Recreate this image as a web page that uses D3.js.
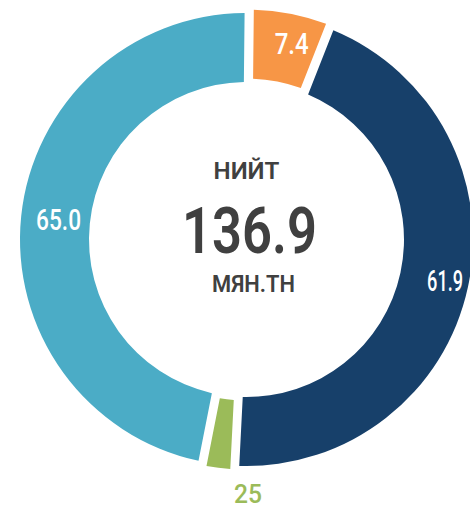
<!DOCTYPE html>
<html>
<head>
<meta charset="utf-8">
<script src="https://cdn.jsdelivr.net/npm/d3@7"></script>
<style>
  html, body { margin: 0; padding: 0; background: #ffffff; }
  svg { display: block; }
</style>
</head>
<body>
<svg id="chart" width="470" height="510"></svg>
<script>
// ---- data ----
const categories = ["A", "B", "C", "D"];
const values = [7.4, 61.9, 2.5, 65.0];
const valueLabels = ["7.4", "61.9", "25", "65.0"];
const colors = ["#F79646", "#17406A", "#9BBB59", "#4BACC6"];
const totalTitle = "НИЙТ";
const totalValue = "136.9";
const totalUnit = "МЯН.ТН";

// ---- layout ----
const cx = 246.5, cy = 239.5;
const outerR = 226.5, innerR = 157.5;
const startDeg = 0.6;
const labelShiftX = 7;

const svg = d3.select("#chart");
const g = svg.append("g").attr("transform", `translate(${cx},${cy})`);

const data = categories.map((c, i) => ({ cat: c, value: values[i], label: valueLabels[i], color: colors[i] }));
const total = d3.sum(values);

const start = startDeg * Math.PI / 180;
const pie = d3.pie().sort(null).value(d => d.value)
  .startAngle(start).endAngle(start + 2 * Math.PI)
  .padAngle(0.031);
const arcs = pie(data);

const arc = d3.arc().innerRadius(innerR).outerRadius(outerR);
const labelArc = d3.arc().innerRadius(196).outerRadius(196);

function offsetFor(d) {
  const share = d.data.value / total;
  if (share >= 0.10) return [0, 0];
  const mid = (d.startAngle + d.endAngle) / 2;
  const off = 3.5;
  return [off * Math.sin(mid), -off * Math.cos(mid)];
}

// condensed text helper: scale horizontally to a target width
function condensedText(parent, txt, x, y, size, weight, fill, targetW) {
  const t = parent.append("text")
    .attr("text-anchor", "middle")
    .attr("font-family", "Roboto, 'Noto Sans', sans-serif")
    .attr("font-weight", weight)
    .attr("font-size", size)
    .attr("fill", fill)
    .text(txt);
  const natural = t.node().getComputedTextLength();
  const s = natural > 0 ? targetW / natural : 1;
  t.attr("transform", `translate(${x},${y}) scale(${s},1)`);
  return t;
}

const slices = g.selectAll("g.slice").data(arcs).join("g")
  .attr("class", "slice")
  .attr("transform", d => { const o = offsetFor(d); return `translate(${o[0]},${o[1]})`; });

slices.append("path")
  .attr("d", arc)
  .attr("fill", d => d.data.color);

const labelWidths = { "7.4": 34, "61.9": 36, "65.0": 45, "25": 28 };

slices.each(function (d) {
  const share = d.data.value / total;
  const sel = d3.select(this);
  if (share >= 0.03) {
    const [x, y] = labelArc.centroid(d);
    condensedText(sel, d.data.label, x + labelShiftX, y + 10.5, 30, 500, "#ffffff", labelWidths[d.data.label]);
  } else {
    condensedText(sel, d.data.label, 2, outerR + 33.5, 25, 500, d.data.color, labelWidths[d.data.label]);
  }
});

// ---- center text ----
const center = g.append("g");
condensedText(center, totalTitle, 0, 179 - cy, 24.5, 600, "#404040", 66);
condensedText(center, totalValue, 3, 253 - cy, 65, 600, "#404040", 135);
condensedText(center, totalUnit, 7, 292 - cy, 23, 600, "#404040", 83);
</script>
</body>
</html>
